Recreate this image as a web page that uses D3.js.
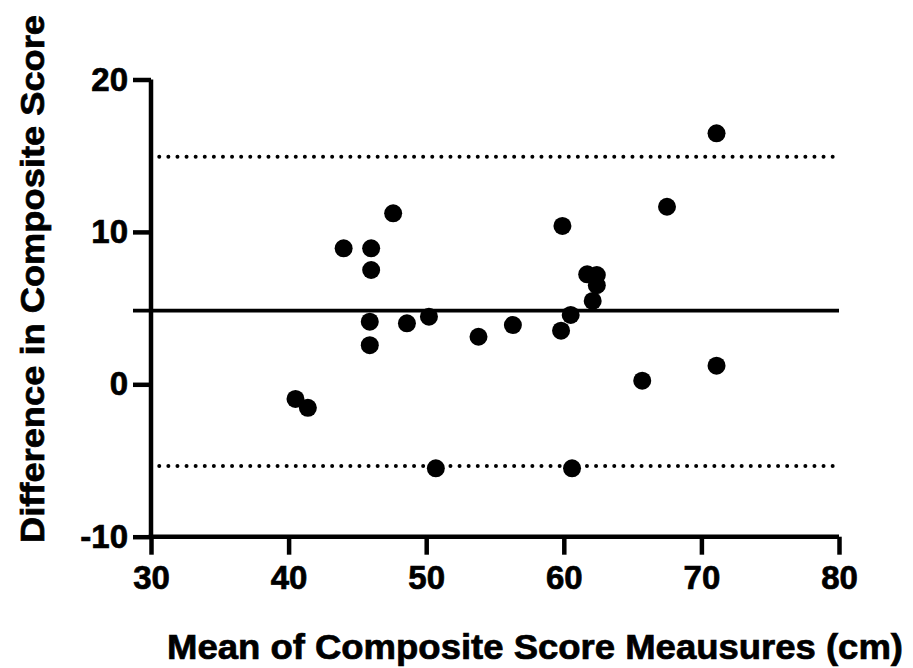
<!DOCTYPE html>
<html>
<head>
<meta charset="utf-8">
<script src="https://cdn.jsdelivr.net/npm/d3@7"></script>
<style>
  html, body { margin: 0; padding: 0; background: #fff; }
  svg { display: block; }
</style>
</head>
<body>
<script>
// Bland-Altman data
const meanVals = [40.5, 41.4, 44.0, 46.0, 46.0, 45.9, 45.9, 47.6, 48.6, 50.2, 50.7, 53.8, 56.3,
                  59.8, 59.9, 60.5, 60.6, 61.7, 62.4, 62.4, 62.1, 65.7, 67.5, 71.1, 71.1];
const diffVals = [-0.96, -1.54, 8.92, 8.92, 7.5, 4.11, 2.57, 11.22, 4.0, 4.44, -5.51, 3.12, 3.89,
                  3.52, 10.39, 4.55, -5.51, 7.22, 7.17, 6.5, 5.47, 0.24, 11.65, 16.47, 1.22];
const bias = 4.83;
const limits = [14.93, -5.36];
const xTicks = [30, 40, 50, 60, 70, 80];
const yTicks = [-10, 0, 10, 20];
const xLabel = "Mean of Composite Score Meausures (cm)";
const yLabel = "Difference in Composite Score";

const w = 913, h = 668;
const mLeft = 151, mRight = 839, mTop = 79.5, mBottom = 536.7;
const font = "'Liberation Sans', Arial, Helvetica, sans-serif";

const svg = d3.select("body").append("svg")
  .attr("width", w).attr("height", h)
  .style("font-family", font);

const x = d3.scaleLinear().domain([30, 80]).range([mLeft, mRight]);
const y = d3.scaleLinear().domain([-10, 20]).range([mBottom, mTop]);

// limits of agreement (dotted)
svg.selectAll("line.loa")
  .data(limits)
  .join("line")
  .attr("class", "loa")
  .attr("x1", x(30.6)).attr("x2", x(80))
  .attr("y1", d => y(d)).attr("y2", d => y(d))
  .attr("stroke", "#000")
  .attr("stroke-width", 4)
  .attr("stroke-linecap", "round")
  .attr("stroke-dasharray", "0 9.1");

// mean difference (solid), runs out over the tick area like the reference
svg.append("line")
  .attr("x1", mLeft - 18).attr("x2", x(80))
  .attr("y1", y(bias)).attr("y2", y(bias))
  .attr("stroke", "#000")
  .attr("stroke-width", 3.8);

// axes (plain hyphen for negatives, as in the original)
const fmt = d => String(d);
const xAxis = svg.append("g")
  .attr("transform", `translate(0,${mBottom})`)
  .call(d3.axisBottom(x).tickValues(xTicks).tickFormat(fmt)
    .tickSize(18).tickPadding(11).tickSizeOuter(0));
const yAxis = svg.append("g")
  .attr("transform", `translate(${mLeft},0)`)
  .call(d3.axisLeft(y).tickValues(yTicks).tickFormat(fmt)
    .tickSize(18).tickPadding(5).tickSizeOuter(0));

[xAxis, yAxis].forEach(g => {
  g.select(".domain").attr("stroke", "#000").attr("stroke-width", 4.5);
  g.selectAll(".tick line").attr("stroke", "#000").attr("stroke-width", 4.5);
  g.selectAll(".tick text")
    .attr("fill", "#000")
    .attr("stroke", "#000")
    .attr("stroke-width", 0.7)
    .style("font-family", font)
    .style("font-size", "33px")
    .style("font-weight", "bold");
});
// square off the axis corner
xAxis.select(".domain").attr("d", `M${mLeft - 2.25},0H${mRight}`);
yAxis.select(".domain").attr("d", `M0,${mTop}V${mBottom + 2.25}`);

// points
svg.append("g")
  .selectAll("circle")
  .data(meanVals.map((m, i) => [m, diffVals[i]]))
  .join("circle")
  .attr("cx", d => x(d[0]))
  .attr("cy", d => y(d[1]))
  .attr("r", 9)
  .attr("fill", "#000");

// titles
svg.append("text")
  .attr("x", 535).attr("y", 659)
  .attr("text-anchor", "middle")
  .attr("stroke", "#000").attr("stroke-width", 0.7)
  .style("font-size", "35px")
  .style("font-weight", "bold")
  .attr("textLength", 736)
  .attr("lengthAdjust", "spacingAndGlyphs")
  .text(xLabel);

svg.append("text")
  .attr("transform", "translate(44,279) rotate(-90)")
  .attr("text-anchor", "middle")
  .attr("stroke", "#000").attr("stroke-width", 0.7)
  .style("font-size", "34px")
  .style("font-weight", "bold")
  .attr("textLength", 528)
  .attr("lengthAdjust", "spacingAndGlyphs")
  .text(yLabel);
</script>
</body>
</html>
